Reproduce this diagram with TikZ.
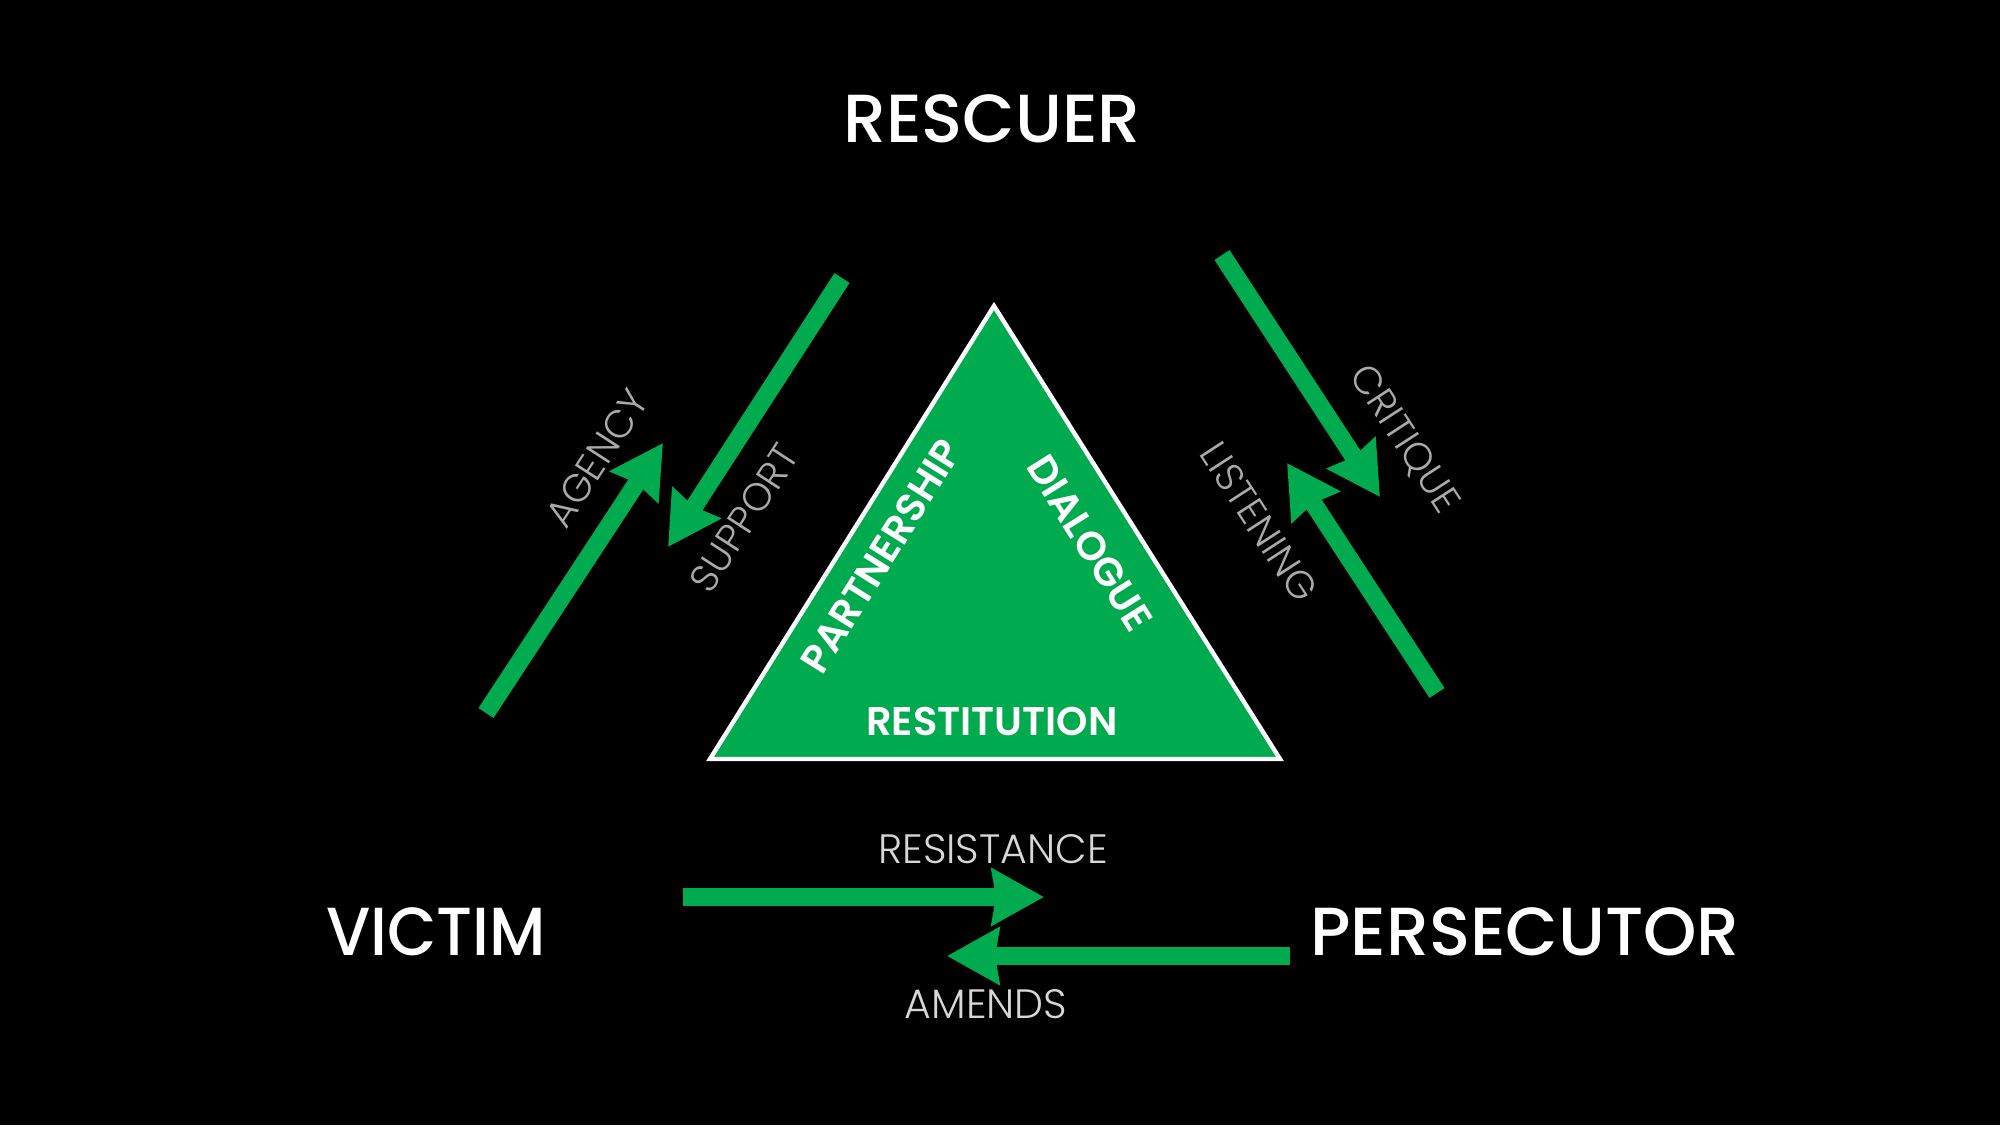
\documentclass[tikz,border=0pt]{standalone}
\usepackage{fontspec}
\setmainfont{Poppins}
\IfFontExistsTF{Poppins Medium}
  {\newfontfamily\fmed{Poppins Medium}}
  {\newfontfamily\fmed[FakeBold=1.2]{Poppins}}
\IfFontExistsTF{Poppins SemiBold}
  {\newfontfamily\fsemi{Poppins SemiBold}}
  {\newfontfamily\fsemi{Poppins}[FakeBold=2]}
\IfFontExistsTF{Poppins Light}
  {\newfontfamily\flight{Poppins Light}}
  {\newfontfamily\flight{Poppins}}
\usetikzlibrary{arrows.meta}
\definecolor{kgreen}{RGB}{0,170,79}
\definecolor{lblgray}{RGB}{170,170,170}
\definecolor{lbllight}{RGB}{215,215,215}
\tikzset{
  big/.style={text=white, inner sep=0pt, text depth=0pt, font=\fmed\fontsize{34}{40}\selectfont},
  sidelbl/.style={text=lblgray, inner sep=0pt, text depth=0pt, font=\flight\fontsize{19.5}{22}\selectfont},
  botlbl/.style={text=lbllight, inner sep=0pt, text depth=0pt, font=\flight\fontsize{20.5}{24}\selectfont},
  inlbl/.style={text=white, inner sep=0pt, text depth=0pt, font=\fsemi\fontsize{20}{24}\selectfont},
  garrow/.style={draw=kgreen, line width=9pt, line cap=butt,
    -{Stealth[length=26pt, width=28pt, inset=2pt, fill=kgreen]}},
}
\begin{document}
\begin{tikzpicture}[x=0.5pt, y=-0.5pt]
\useasboundingbox (0,0) rectangle (2000,1125);
\fill[black] (0,0) rectangle (2000,1125);

% central triangle
\coordinate (tA) at (994,306);
\coordinate (tL) at (710,759);
\coordinate (tR) at (1280,759);
\filldraw[fill=kgreen, draw=white, line width=2.2pt, line join=miter] (tA) -- (tL) -- (tR) -- cycle;

% role labels
\node[big] (rescuer) at (992,119) {RESCUER};
\node[big, xscale=0.94] (victim) at (436,932) {VICTIM};
\node[big] (persecutor) at (1525,932) {PERSECUTOR};

% triangle labels
\node[inlbl, rotate=58] (partnership) at (881,556) {PARTNERSHIP};
\node[inlbl, rotate=-58] (dialogue) at (1090,543) {DIALOGUE};
\node[inlbl] (restitution) at (992,721) {RESTITUTION};

% arrow end points
\coordinate (ag1) at (486,713);
\coordinate (ag2) at (663,443);
\coordinate (sp1) at (842,278);
\coordinate (sp2) at (668,547);
\coordinate (cr1) at (1222,255);
\coordinate (cr2) at (1380,497);
\coordinate (li1) at (1437,693);
\coordinate (li2) at (1287,463);
\coordinate (re1) at (683,897);
\coordinate (re2) at (1044,897);
\coordinate (am1) at (1290,956);
\coordinate (am2) at (947,956);

\draw[garrow] (ag1) -- (ag2);
\draw[garrow] (sp1) -- (sp2);
\draw[garrow] (cr1) -- (cr2);
\draw[garrow] (li1) -- (li2);
\draw[garrow] (re1) -- (re2);
\draw[garrow] (am1) -- (am2);

% arrow labels
\node[sidelbl, rotate=57] (agency) at (597,458) {AGENCY};
\node[sidelbl, rotate=57] (support) at (744,518) {SUPPORT};
\node[sidelbl, rotate=-57] (critique) at (1406,438) {CRITIQUE};
\node[sidelbl, rotate=-57] (listening) at (1259,522) {LISTENING};
\node[botlbl] (resistance) at (993,849) {RESISTANCE};
\node[botlbl] (amends) at (986,1004) {AMENDS};
\end{tikzpicture}
\end{document}
